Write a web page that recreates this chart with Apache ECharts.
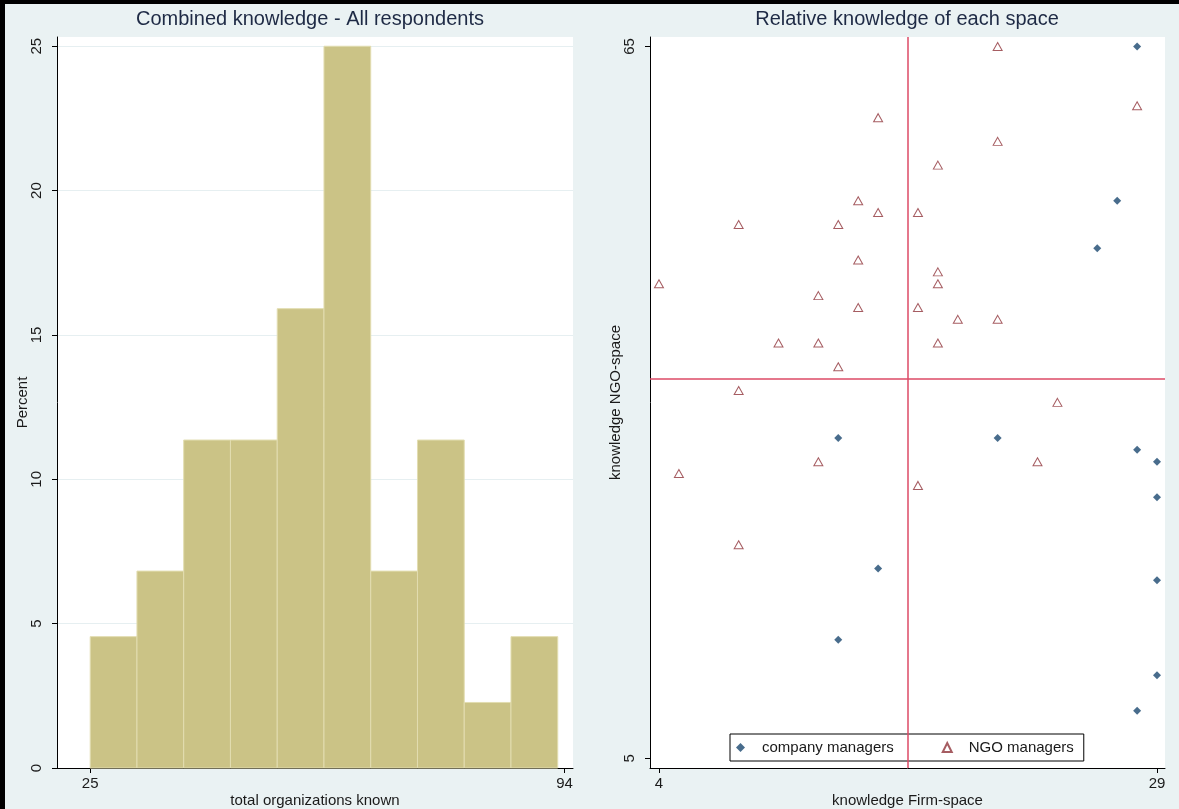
<!DOCTYPE html>
<html>
<head>
<meta charset="utf-8">
<script src="https://cdn.jsdelivr.net/npm/echarts@6/dist/echarts.min.js"></script>
<style>
  html, body { margin: 0; padding: 0; background: #EAF2F3; }
  #chart { width: 1179px; height: 809px; }
</style>
</head>
<body>
<div id="chart"></div>
<script>
// Histogram: share of respondents by total number of organizations known
const binStart = 25;
const binWidth = 6.8;
const binPercent = [4.55, 6.82, 11.36, 11.36, 15.91, 25, 6.82, 11.36, 2.27, 4.55];
const histXTicks = [25, 94];
const histYTicks = [0, 5, 10, 15, 20, 25];

// Scatter: knowledge of the firm space (x) against the NGO space (y)
const companyFirm = [28, 27, 26, 13, 21, 28, 29, 29, 15, 29, 13, 29, 28];
const companyNgo  = [65, 52, 48, 32, 32, 31, 30, 27, 21, 20, 15, 12, 9];
const ngoFirm = [4, 5, 8, 8, 8, 10, 12, 12, 12, 13, 13, 14, 14, 14, 15, 15, 17, 17, 17, 18, 18, 18, 18, 19, 21, 21, 21, 23, 24, 28];
const ngoNgo  = [45, 29, 50, 36, 23, 40, 44, 40, 30, 50, 38, 52, 47, 43, 59, 51, 51, 43, 28, 55, 46, 45, 40, 42, 65, 57, 42, 30, 35, 60];
const scatterXTicks = [4, 29];
const scatterYTicks = [5, 65];
const refFirm = 16.5;
const refNgo = 37;

const FONT = "'Liberation Sans', Arial, sans-serif";
const INK = '#1a1a1a';

function valueAxis(gridIndex, min, max, ticks, name, nameGap, isY, splitLine) {
  return {
    type: 'value',
    gridIndex: gridIndex,
    min: min,
    max: max,
    name: name,
    nameLocation: 'middle',
    nameGap: nameGap,
    nameMoveOverlap: false,
    nameTextStyle: { fontFamily: FONT, fontSize: 15, color: INK },
    axisLine: { show: true, onZero: false, lineStyle: { color: '#000', width: 1 } },
    axisTick: { show: true, length: 5, inside: false, customValues: ticks, lineStyle: { color: '#000' } },
    axisLabel: {
      customValues: ticks,
      rotate: isY ? 90 : 0,
      margin: isY ? 13 : 8,
      fontFamily: FONT,
      fontSize: 15,
      color: INK
    },
    splitLine: { show: !!splitLine, lineStyle: { color: '#E6EFF1', width: 1 } }
  };
}

const chart = echarts.init(document.getElementById('chart'), null, { renderer: 'canvas' });

chart.setOption({
  backgroundColor: '#EAF2F3',
  animation: false,
  graphic: [
    { type: 'rect', shape: { x: 0, y: 0, width: 1179, height: 4 }, style: { fill: '#000' }, z: 100 },
    { type: 'rect', shape: { x: 0, y: 0, width: 5, height: 809 }, style: { fill: '#000' }, z: 100 },
    {
      type: 'text', x: 310, y: 19,
      style: { text: 'Combined knowledge - All respondents', textAlign: 'center', textVerticalAlign: 'middle',
               font: "20px 'Liberation Sans', Arial, sans-serif", fill: '#1E2A45' }
    },
    {
      type: 'text', x: 907, y: 19,
      style: { text: 'Relative knowledge of each space', textAlign: 'center', textVerticalAlign: 'middle',
               font: "20px 'Liberation Sans', Arial, sans-serif", fill: '#1E2A45' }
    }
  ],
  grid: [
    { left: 57, top: 37, width: 516, height: 731, show: true, backgroundColor: '#fff', borderWidth: 0, outerBoundsMode: 'none', containLabel: false },
    { left: 650, top: 37, width: 515, height: 731, show: true, backgroundColor: '#fff', borderWidth: 0, outerBoundsMode: 'none', containLabel: false }
  ],
  xAxis: [
    valueAxis(0, 20.17, 95.22, histXTicks, 'total organizations known', 25, false, false),
    valueAxis(1, 3.55, 29.4, scatterXTicks, 'knowledge Firm-space', 25, false, false)
  ],
  yAxis: [
    valueAxis(0, 0, 25.32, histYTicks, 'Percent', 27, true, true),
    valueAxis(1, 4.18, 65.8, scatterYTicks, 'knowledge NGO-space', 27, true, false)
  ],
  legend: {
    left: 730,
    top: 734,
    orient: 'horizontal',
    backgroundColor: '#fff',
    borderColor: '#000',
    borderWidth: 1,
    borderRadius: 0,
    padding: [6, 10, 6, 6],
    itemGap: 48,
    itemWidth: 9,
    itemHeight: 9,
    textStyle: { fontFamily: FONT, fontSize: 15, color: INK, padding: [0, 0, 0, 12] },
    data: ['company managers', 'NGO managers']
  },
  series: [
    {
      type: 'custom',
      xAxisIndex: 0,
      yAxisIndex: 0,
      encode: { x: [0, 1], y: 2 },
      data: binPercent.map((p, i) => [binStart + i * binWidth, binStart + (i + 1) * binWidth, p]),
      renderItem: function (params, api) {
        const topLeft = api.coord([api.value(0), api.value(2)]);
        const bottomRight = api.coord([api.value(1), 0]);
        return {
          type: 'rect',
          shape: {
            x: topLeft[0],
            y: topLeft[1],
            width: bottomRight[0] - topLeft[0],
            height: bottomRight[1] - topLeft[1]
          },
          style: { fill: '#CBC386', stroke: '#E2DDB0', lineWidth: 1 }
        };
      }
    },
    {
      name: 'company managers',
      type: 'scatter',
      xAxisIndex: 1,
      yAxisIndex: 1,
      symbol: 'diamond',
      symbolSize: 8,
      itemStyle: { color: '#1A476F' },
      data: companyFirm.map((x, i) => [x, companyNgo[i]]),
      z: 5
    },
    {
      name: 'NGO managers',
      type: 'scatter',
      xAxisIndex: 1,
      yAxisIndex: 1,
      symbol: 'triangle',
      symbolSize: [9, 8],
      itemStyle: { color: 'rgba(255,255,255,0)', borderColor: '#90353B', borderWidth: 1 },
      data: ngoFirm.map((x, i) => [x, ngoNgo[i]]),
      z: 5,
      markLine: {
        silent: true,
        symbol: 'none',
        label: { show: false },
        lineStyle: { color: '#DC4A66', width: 1.5, type: 'solid' },
        data: [{ xAxis: refFirm }, { yAxis: refNgo }]
      }
    }
  ]
});
</script>
</body>
</html>
